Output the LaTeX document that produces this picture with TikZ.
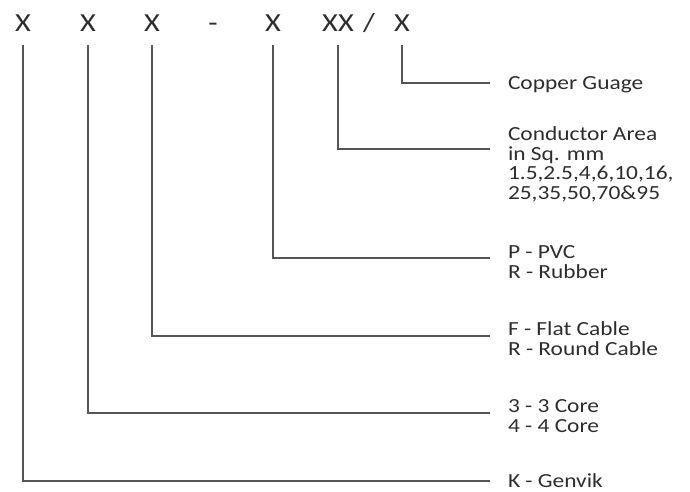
\documentclass[tikz,border=0pt]{standalone}
\usepackage{fontspec}
\setmainfont{Carlito}[FakeStretch=1.17]
\usetikzlibrary{positioning}
\definecolor{txtgray}{RGB}{45,45,45}
\definecolor{linegray}{RGB}{85,85,85}

\begin{document}
\begin{tikzpicture}[
    x=1pt, y=-1pt,
    code/.style={anchor=base, inner xsep=0pt, inner ysep=13pt, text=txtgray,
      font=\fontsize{26}{26}\selectfont},
    desc/.style={anchor=base west, align=left, inner xsep=0pt, inner ysep=0pt,
      outer xsep=18pt, outer ysep=0pt, text=txtgray,
      font=\fontsize{20}{20}\selectfont},
    lead/.style={draw=linegray, line width=1.2pt}
  ]
  \useasboundingbox (0,0) rectangle (690,492);

  % Code letters
  \node[code] (brand) at (23,32) {X};
  \node[code] (core) at (88,32) {X};
  \node[code] (shape) at (152,32) {X};
  \node[code] (dash) at (213,32) {-};
  \node[code] (insul) at (273,32) {X};
  \node[code] (area) at (338,32) {XX};
  \node[code] (slash) at (369,32) {/};
  \node[code] (gauge) at (402,32) {X};

  % Descriptions (base = last line)
  \node[desc] (copper) at (490,90) {Copper Guage};
  \node[desc] (cond) at (490,160) {Conductor Area\\in Sq. mm};
  \node[desc] (sizes) at (490,199) {1.5,2.5,4,6,10,16,\\25,35,50,70\&95};
  \node[desc] (pvc) at (490,278) {P - PVC\\R - Rubber};
  \node[desc] (flat) at (490,355) {F - Flat Cable\\R - Round Cable};
  \node[desc] (cores) at (490,432) {3 - 3 Core\\4 - 4 Core};
  \node[desc] (genvik) at (490,487) {K - Genvik};

  % Leader lines
  \draw[lead] (gauge.south) |- ([yshift=7pt]copper.base west);
  \draw[lead] (area.south) |- ([yshift=11pt]cond.base west);
  \draw[lead] (insul.south) |- ([yshift=20pt]pvc.base west);
  \draw[lead] (shape.south) |- ([yshift=19pt]flat.base west);
  \draw[lead] (core.south) |- ([yshift=19pt]cores.base west);
  \draw[lead] (brand.south) |- ([yshift=6pt]genvik.base west);

\end{tikzpicture}
\end{document}
